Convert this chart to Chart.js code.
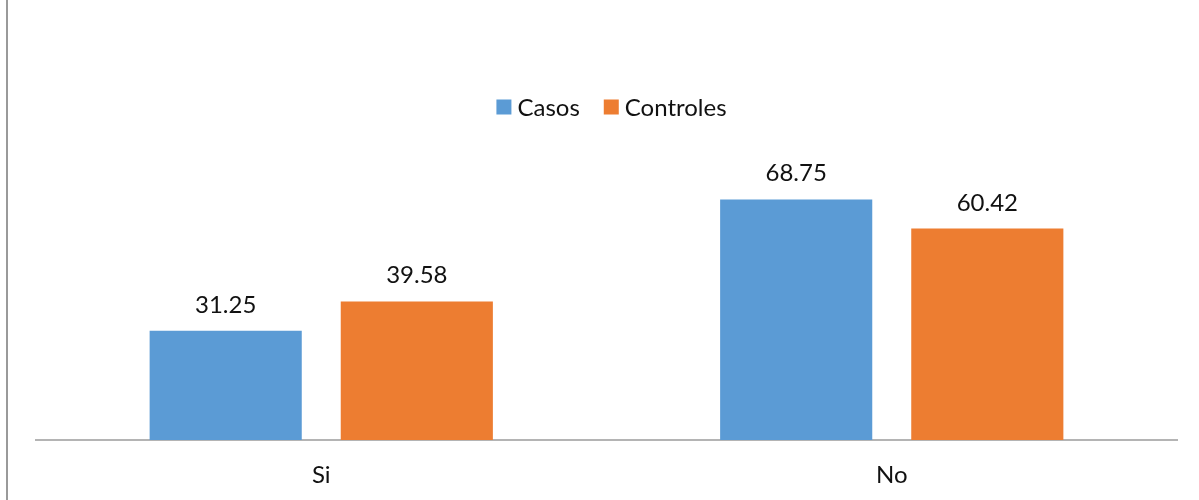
<!DOCTYPE html>
<html>
<head>
<meta charset="utf-8">
<script src="https://cdn.jsdelivr.net/npm/chart.js@4.4.1/dist/chart.umd.min.js"></script>
<style>
  html, body { margin: 0; padding: 0; background: #fff; }
  canvas { display: block; }
</style>
</head>
<body>
<canvas id="chart" width="1199" height="500"></canvas>
<script>
const categories = ['Si', 'No'];
const casos = [31.25, 68.75];
const controles = [39.58, 60.42];
const seriesNames = ['Casos', 'Controles'];
const seriesColors = ['#5B9BD5', '#ED7D31'];

const FONT = 'Lato, "Open Sans", sans-serif';
const FONT_SIZE = 24;

// thin frame line on the left edge
const frameLine = {
  id: 'frameLine',
  beforeDraw(chart) {
    const ctx = chart.ctx;
    ctx.save();
    ctx.fillStyle = '#fff';
    ctx.fillRect(0, 0, chart.width, chart.height);
    ctx.strokeStyle = '#9a9a9a';
    ctx.lineWidth = 2;
    ctx.beginPath();
    ctx.moveTo(7, 0);
    ctx.lineTo(7, chart.height);
    ctx.stroke();
    ctx.restore();
  }
};

// value above each bar
const barValues = {
  id: 'barValues',
  afterDatasetsDraw(chart) {
    const ctx = chart.ctx;
    ctx.save();
    ctx.font = FONT_SIZE + 'px ' + FONT;
    ctx.fillStyle = '#111';
    ctx.textAlign = 'center';
    ctx.textBaseline = 'alphabetic';
    chart.data.datasets.forEach((ds, i) => {
      chart.getDatasetMeta(i).data.forEach((bar, j) => {
        ctx.fillText(ds.data[j].toFixed(2), bar.x, bar.y - 18);
      });
    });
    ctx.restore();
  }
};

// legend row, a little right of centre
const legendRow = {
  id: 'legendRow',
  afterDraw(chart) {
    const ctx = chart.ctx;
    const box = 15, textGap = 6, itemGap = 24, cy = 107;
    ctx.save();
    ctx.font = FONT_SIZE + 'px ' + FONT;
    ctx.textBaseline = 'middle';
    const items = chart.data.datasets.map(ds => ({
      label: ds.label, color: ds.backgroundColor,
      w: box + textGap + ctx.measureText(ds.label).width
    }));
    const total = items.reduce((s, it) => s + it.w, 0) + itemGap * (items.length - 1);
    let x = (chart.width - total) / 2 + 12;
    items.forEach(it => {
      ctx.fillStyle = it.color;
      ctx.fillRect(x, cy - box / 2, box, box);
      ctx.fillStyle = '#111';
      ctx.fillText(it.label, x + box + textGap, cy + 1);
      x += it.w + itemGap;
    });
    ctx.restore();
  }
};

new Chart(document.getElementById('chart'), {
  type: 'bar',
  data: {
    labels: categories,
    datasets: [
      { label: seriesNames[0], data: casos, backgroundColor: seriesColors[0] },
      { label: seriesNames[1], data: controles, backgroundColor: seriesColors[1] }
    ]
  },
  options: {
    responsive: false,
    animation: false,
    datasets: { bar: { categoryPercentage: 0.67, barPercentage: 0.796 } },
    layout: { padding: { left: 36, right: 22, top: 90, bottom: 0 } },
    plugins: { legend: { display: false }, tooltip: { enabled: false } },
    scales: {
      y: { display: false, min: 0, max: 100 },
      x: {
        afterFit(scale) { scale.height = 60; },
        grid: { display: false, drawTicks: false },
        border: { display: true, color: '#b4b4b4', width: 2 },
        ticks: { color: '#111', padding: 21, font: { size: FONT_SIZE, family: FONT } }
      }
    }
  },
  plugins: [frameLine, barValues, legendRow]
});
</script>
</body>
</html>
